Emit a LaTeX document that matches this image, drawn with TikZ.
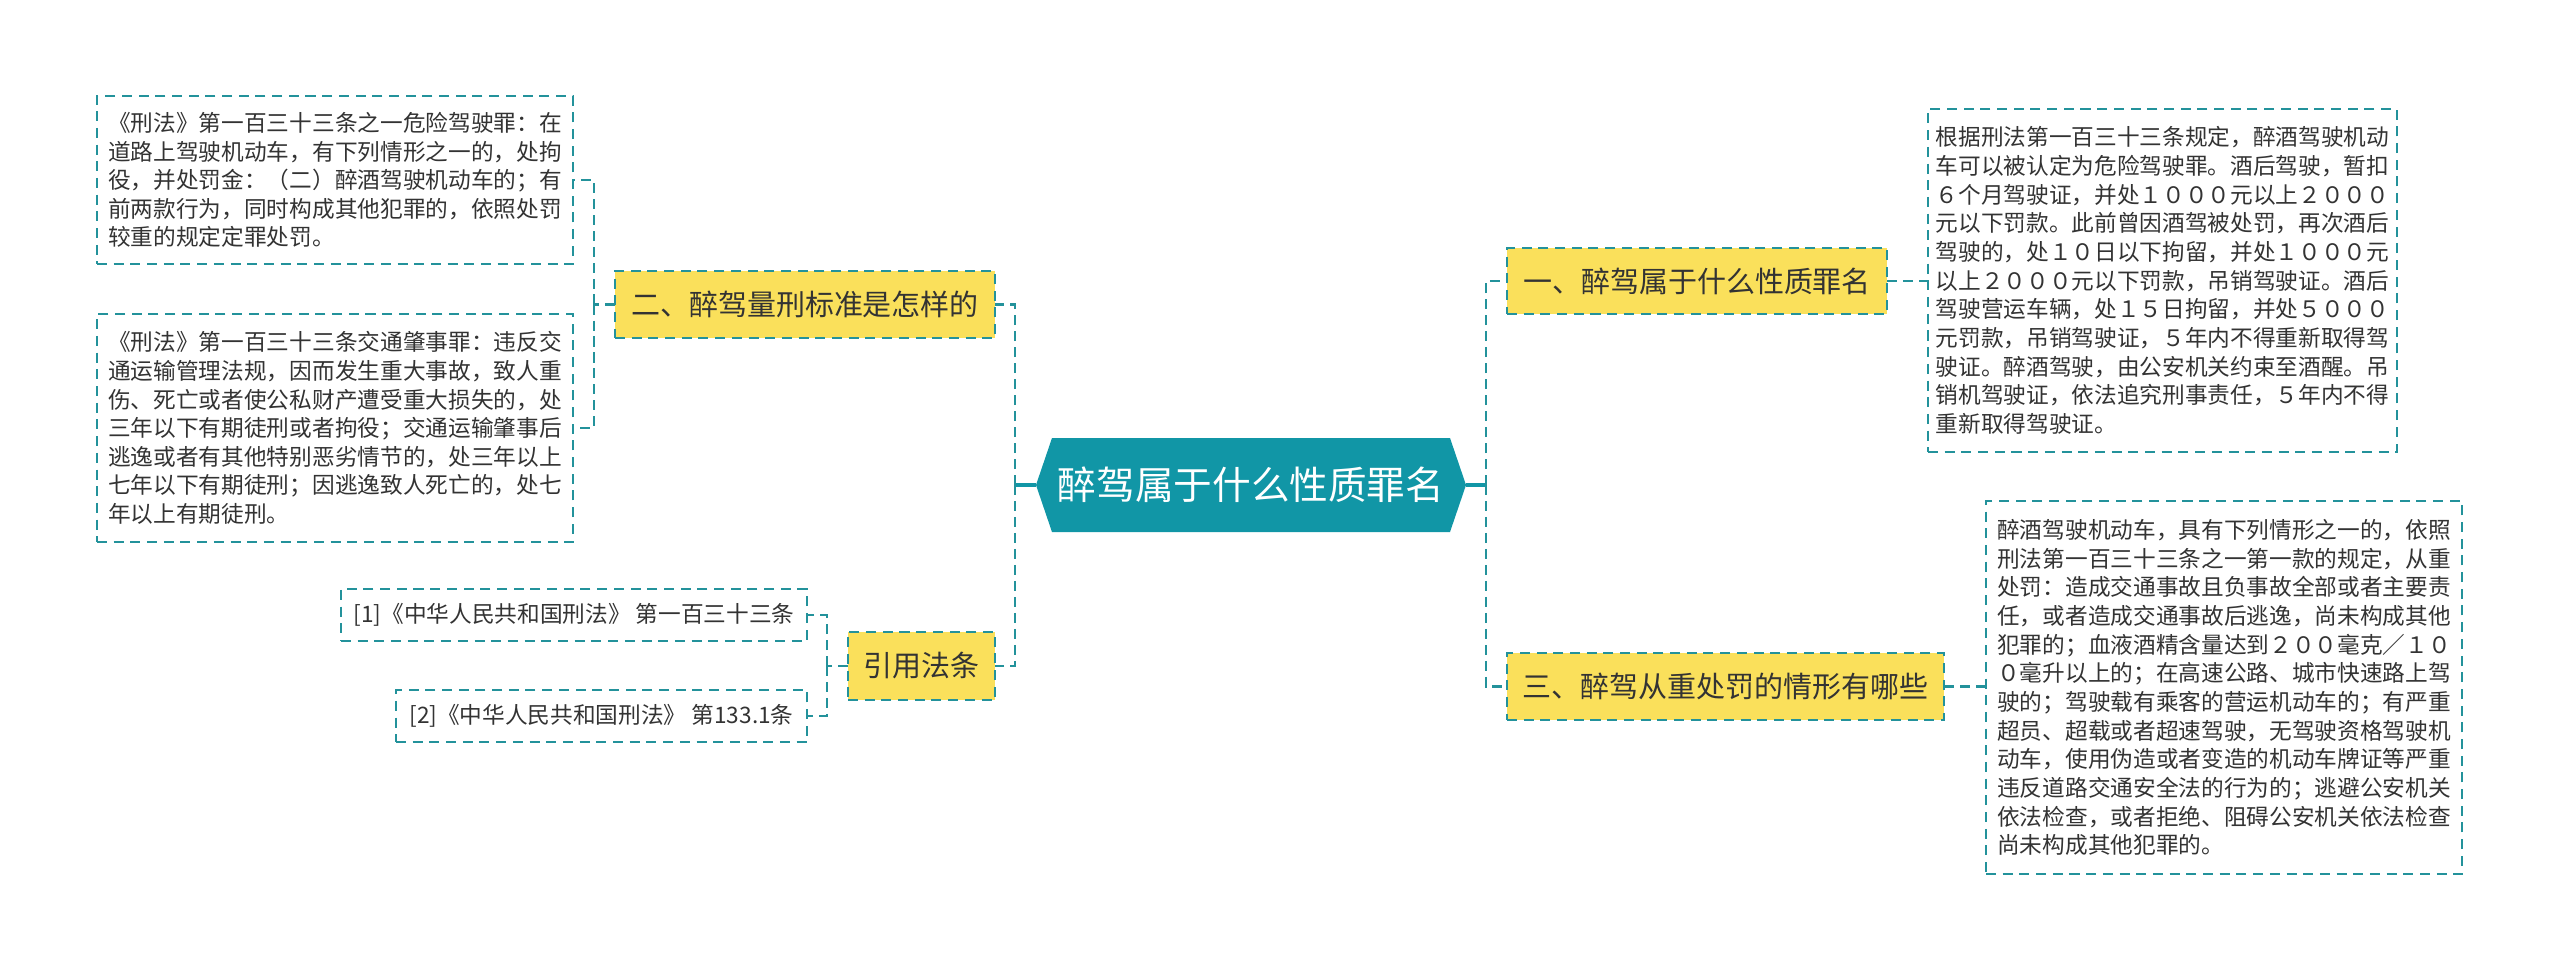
\documentclass[tikz,border=0pt]{standalone}
\usepackage{fontspec}
\newfontfamily\cjk{Noto Sans CJK SC}
\usetikzlibrary{calc,backgrounds}
\definecolor{tealfill}{HTML}{1196A6}
\definecolor{tealline}{HTML}{23929B}
\definecolor{sunny}{HTML}{FAE05B}
\definecolor{ink}{HTML}{333333}
\tikzset{
  box/.style={draw=tealline,line width=1.1pt,dash pattern=on 5.7pt off 3.8pt,
    inner sep=0pt,outer sep=0pt,text=ink,align=left,
    font=\cjk\fontsize{12.9pt}{16.3pt}\selectfont},
  leaf/.style={box,fill=white},
  branch/.style={box,fill=sunny,align=center,font=\cjk\fontsize{16.5pt}{20pt}\selectfont},
  link/.style={draw=tealline,line width=1.5pt,dash pattern=on 5.7pt off 3.4pt},
  stub/.style={draw=tealfill,line width=1.8pt}
}
\begin{document}
\begin{tikzpicture}[x=0.2mm,y=-0.2mm]
\useasboundingbox (0,0) rectangle (2560,972);
% centre
\node[inner sep=0pt,outer sep=0pt,minimum width=79.6mm,minimum height=18.8mm,
  text=white,font=\cjk\fontsize{22pt}{26pt}\selectfont] (root) at (1251,485) {醉驾属于什么性质罪名};
\begin{scope}[on background layer]
\fill[tealfill] (root.north west) -- (root.north east) -- ($(root.east)+(16,0)$)
  -- (root.south east) -- (root.south west) -- ($(root.west)+(-16,0)$) -- cycle;
\end{scope}
% branches
\node[branch,minimum width=76mm,minimum height=13.2mm] (yi) at (1697,281) {一、醉驾属于什么性质罪名};
\node[branch,minimum width=87.4mm,minimum height=13.4mm] (san) at (1725.5,686.5) {三、醉驾从重处罚的情形有哪些};
\node[branch,minimum width=76mm,minimum height=13.4mm] (er) at (805,304.5) {二、醉驾量刑标准是怎样的};
\node[branch,minimum width=29.4mm,minimum height=13.6mm] (yin) at (921.5,666) {引用法条};
% leaves
\node[leaf,minimum width=93.8mm,minimum height=68.6mm] (L1) at (2162.5,280.5) {根据刑法第一百三十三条规定，醉酒驾驶机动\\
车可以被认定为危险驾驶罪。酒后驾驶，暂扣\\
６个月驾驶证，并处１０００元以上２０００\\
元以下罚款。此前曾因酒驾被处罚，再次酒后\\
驾驶的，处１０日以下拘留，并处１０００元\\
以上２０００元以下罚款，吊销驾驶证。酒后\\
驾驶营运车辆，处１５日拘留，并处５０００\\
元罚款，吊销驾驶证，５年内不得重新取得驾\\
驶证。醉酒驾驶，由公安机关约束至酒醒。吊\\
销机驾驶证，依法追究刑事责任，５年内不得\\
重新取得驾驶证。};
\node[leaf,minimum width=95.2mm,minimum height=74.6mm] (L2) at (2224,687.5) {醉酒驾驶机动车，具有下列情形之一的，依照\\
刑法第一百三十三条之一第一款的规定，从重\\
处罚：造成交通事故且负事故全部或者主要责\\
任，或者造成交通事故后逃逸，尚未构成其他\\
犯罪的；血液酒精含量达到２００毫克／１０\\
０毫升以上的；在高速公路、城市快速路上驾\\
驶的；驾驶载有乘客的营运机动车的；有严重\\
超员、超载或者超速驾驶，无驾驶资格驾驶机\\
动车，使用伪造或者变造的机动车牌证等严重\\
违反道路交通安全法的行为的；逃避公安机关\\
依法检查，或者拒绝、阻碍公安机关依法检查\\
尚未构成其他犯罪的。};
\node[leaf,minimum width=95.2mm,minimum height=33.6mm] (L3) at (335,180) {《刑法》第一百三十三条之一危险驾驶罪：在\\
道路上驾驶机动车，有下列情形之一的，处拘\\
役，并处罚金：（二）醉酒驾驶机动车的；有\\
前两款行为，同时构成其他犯罪的，依照处罚\\
较重的规定定罪处罚。};
\node[leaf,minimum width=95.2mm,minimum height=45.6mm] (L4) at (335,428) {《刑法》第一百三十三条交通肇事罪：违反交\\
通运输管理法规，因而发生重大事故，致人重\\
伤、死亡或者使公私财产遭受重大损失的，处\\
三年以下有期徒刑或者拘役；交通运输肇事后\\
逃逸或者有其他特别恶劣情节的，处三年以上\\
七年以下有期徒刑；因逃逸致人死亡的，处七\\
年以上有期徒刑。};
\node[leaf,minimum width=93.2mm,minimum height=10.4mm] (R1) at (574,615) {[1]《中华人民共和国刑法》 第一百三十三条};
\node[leaf,minimum width=82.2mm,minimum height=10.4mm] (R2) at (601.5,716) {[2]《中华人民共和国刑法》 第133.1条};
% connectors
\coordinate (hubR) at (1486,485);
\coordinate (hubL) at (1015,485);
\coordinate (hubE) at (594,304.5);
\coordinate (hubY) at (827,666);
\draw[stub] ($(root.east)+(16,0)$) -- (hubR);
\draw[link] (hubR) |- (yi.west);
\draw[link] (hubR) |- (san.west);
\draw[stub] ($(root.west)+(-16,0)$) -- (hubL);
\draw[link] (hubL) |- (er.east);
\draw[link] (hubL) |- (yin.east);
\draw[link] (yi.east) -- (L1.west |- yi.east);
\draw[link] (san.east) -- (L2.west |- san.east);
\draw[link] (er.west) -- (hubE);
\draw[link] (hubE) |- (L3.east);
\draw[link] (hubE) |- (L4.east);
\draw[link] (yin.west) -- (hubY);
\draw[link] (hubY) |- (R1.east);
\draw[link] (hubY) |- (R2.east);
\end{tikzpicture}
\end{document}
